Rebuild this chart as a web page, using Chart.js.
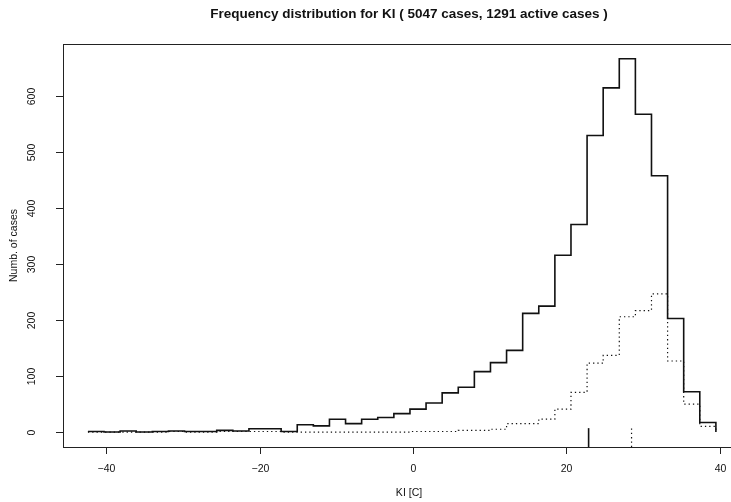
<!DOCTYPE html>
<html>
<head>
<meta charset="utf-8">
<script src="https://cdn.jsdelivr.net/npm/chart.js@4/dist/chart.umd.min.js"></script>
<style>
  html, body { margin: 0; padding: 0; background: #fff; }
  #wrap { width: 731px; height: 502px; overflow: hidden; position: relative; }
  #chart { display: block; }
</style>
</head>
<body>
<div id="wrap"><canvas id="chart" width="780" height="502"></canvas></div>
<script>
// bin edges of the histogram (KI in C), 39 bins
const binEdges = [
  -42.4, -40.3, -38.2, -36.1, -34.0, -31.9, -29.8, -27.7, -25.6, -23.5,
  -21.4, -19.3, -17.2, -15.1, -13.0, -10.9, -8.8, -6.7, -4.6, -2.5,
  -0.4, 1.7, 3.8, 5.9, 8.0, 10.1, 12.2, 14.3, 16.4, 18.5,
  20.6, 22.7, 24.8, 26.9, 29.0, 31.1, 33.2, 35.3, 37.4, 39.5
];
// all cases per bin
const allCases = [
  1, 0, 2, 0, 1, 2, 1, 1, 3, 2,
  6, 6, 1, 13, 11, 23, 15, 23, 26, 33,
  41, 52, 70, 80, 108, 124, 146, 212, 225, 316,
  371, 530, 615, 667, 568, 458, 203, 72, 17
];
// active cases per bin
const activeCases = [
  0, 0, 0, 0, 0, 1, 0, 0, 1, 1,
  1, 1, 0, 0, 0, 0, 0, 0, 0, 0,
  1, 1, 1, 3, 3, 5, 15, 15, 23, 41,
  71, 123, 137, 206, 217, 247, 127, 50, 10
];
// means marked on the x axis
const meanAll = 22.9;
const meanActive = 28.5;

const xTicks = [-40, -20, 0, 20, 40];
const yTicks = [0, 100, 200, 300, 400, 500, 600];

const titleText = 'Frequency distribution for KI ( 5047 cases, 1291 active cases )';
const xTitle = 'KI [C]';
const yTitle = 'Numb. of cases';

const X_MIN = -45.65, X_MAX = 44.6;
const Y_MIN = -26.7, Y_MAX = 693.4;
const MARK_TOP = 7;

// one point per bin start, plus a closing point that drops back to zero
function stepPoints(counts) {
  const pts = counts.map((c, i) => ({ x: binEdges[i], y: c }));
  pts.push({ x: binEdges[binEdges.length - 1], y: 0 });
  return pts;
}

const fontFamily = '"Liberation Sans", Arial, Helvetica, sans-serif';

const rFrame = {
  id: 'rFrame',
  afterDraw(chart) {
    const ctx = chart.ctx;
    const a = chart.chartArea;
    const xs = chart.scales.x, ys = chart.scales.y;
    ctx.save();
    ctx.strokeStyle = '#222';
    ctx.lineWidth = 1;
    ctx.strokeRect(a.left + 0.5, a.top + 0.5, a.right - a.left, a.bottom - a.top);

    ctx.fillStyle = '#111';
    ctx.font = '10.5px ' + fontFamily;
    ctx.textAlign = 'center';
    ctx.textBaseline = 'middle';
    xTicks.forEach(v => {
      const px = Math.round(xs.getPixelForValue(v)) + 0.5;
      ctx.beginPath();
      ctx.moveTo(px, a.bottom);
      ctx.lineTo(px, a.bottom + 7);
      ctx.stroke();
      ctx.fillText(v < 0 ? '\u2212' + Math.abs(v) : String(v), px, a.bottom + 22);
    });
    yTicks.forEach(v => {
      const py = Math.round(ys.getPixelForValue(v)) + 0.5;
      ctx.beginPath();
      ctx.moveTo(a.left, py);
      ctx.lineTo(a.left - 7, py);
      ctx.stroke();
      ctx.save();
      ctx.translate(a.left - 31, py);
      ctx.rotate(-Math.PI / 2);
      ctx.fillText(String(v), 0, 0);
      ctx.restore();
    });

    const cx = (a.left + a.right) / 2;
    const cy = (a.top + a.bottom) / 2;
    ctx.fillText(xTitle, cx, a.bottom + 46);
    ctx.save();
    ctx.translate(14, cy);
    ctx.rotate(-Math.PI / 2);
    ctx.fillText(yTitle, 0, 0);
    ctx.restore();

    ctx.font = 'bold 13.5px ' + fontFamily;
    ctx.fillText(titleText, cx, 14);
    ctx.restore();
  }
};

new Chart(document.getElementById('chart'), {
  type: 'line',
  data: {
    datasets: [
      {
        label: 'all cases',
        data: stepPoints(allCases),
        stepped: 'before',
        borderColor: '#111',
        borderWidth: 1.6,
        fill: false
      },
      {
        label: 'active cases',
        data: stepPoints(activeCases),
        stepped: 'before',
        borderColor: '#111',
        borderWidth: 1.2,
        borderDash: [1.3, 3],
        fill: false
      },
      {
        label: 'mean all',
        data: [{ x: meanAll, y: Y_MIN }, { x: meanAll, y: MARK_TOP }],
        borderColor: '#111',
        borderWidth: 1.6
      },
      {
        label: 'mean active',
        data: [{ x: meanActive, y: Y_MIN }, { x: meanActive, y: MARK_TOP }],
        borderColor: '#111',
        borderWidth: 1.2,
        borderDash: [1.3, 3]
      }
    ]
  },
  options: {
    responsive: false,
    animation: false,
    devicePixelRatio: 1,
    layout: { padding: { left: 63, right: 25, top: 44, bottom: 55 } },
    elements: { point: { radius: 0 }, line: { tension: 0 } },
    scales: {
      x: { type: 'linear', min: X_MIN, max: X_MAX, display: false },
      y: { type: 'linear', min: Y_MIN, max: Y_MAX, display: false }
    },
    plugins: {
      legend: { display: false },
      tooltip: { enabled: false },
      title: { display: false }
    }
  },
  plugins: [rFrame]
});
</script>
</body>
</html>
